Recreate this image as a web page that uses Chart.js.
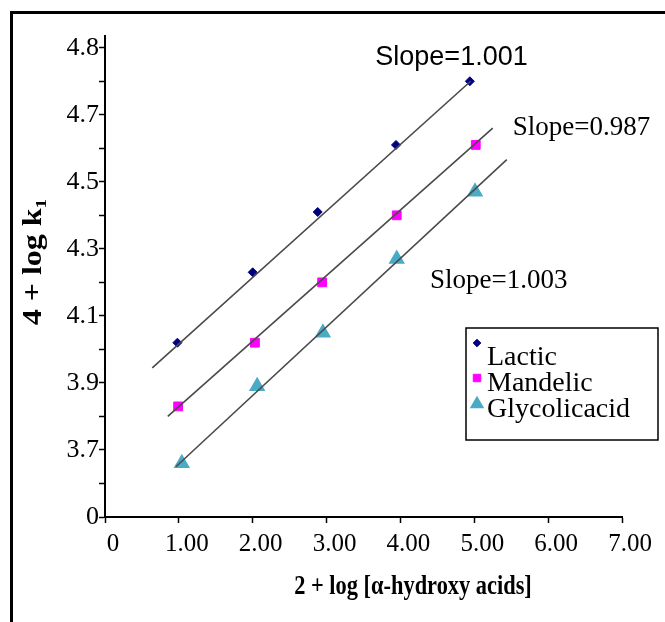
<!DOCTYPE html>
<html>
<head>
<meta charset="utf-8">
<script src="https://cdn.jsdelivr.net/npm/chart.js@4"></script>
<style>
  body { margin: 0; background: #fff; }
  #wrap { width: 665px; height: 622px; position: relative; }
</style>
</head>
<body>
<div id="wrap"><canvas id="chart"></canvas></div>
<script>
// values
const lacticX = [0.98, 2.00, 2.88, 3.94, 4.94];
const lacticY = [4.02, 4.23, 4.41, 4.61, 4.80];
const mandelicX = [0.99, 2.03, 2.94, 3.95, 5.02];
const mandelicY = [3.83, 4.02, 4.20, 4.40, 4.61];
const glycolicX = [1.04, 2.06, 2.95, 3.95, 5.01];
const glycolicY = [3.66, 3.89, 4.05, 4.27, 4.47];

// trend line end points
const lacticFit = [[0.64, 3.945], [4.95, 4.80]];
const mandelicFit = [[0.85, 3.80], [5.25, 4.66]];
const glycolicFit = [[0.96, 3.65], [5.44, 4.566]];

// y axis: tick values and the labels printed at them
const yTickValues = [3.5, 3.7, 3.9, 4.1, 4.3, 4.5, 4.7, 4.9];
const yTickLabels = ['0', '3.7', '3.9', '4.1', '4.3', '4.5', '4.7', '4.8'];

const slopeNotes = [
  { text: 'Slope=1.001', x: 3.66, y: 4.849, font: '27px "Liberation Sans", Arial, sans-serif' },
  { text: 'Slope=0.987', x: 5.52, y: 4.640, font: '27px "Liberation Serif", "Times New Roman", serif' },
  { text: 'Slope=1.003', x: 4.40, y: 4.184, font: '27px "Liberation Serif", "Times New Roman", serif' }
];

const serif = '"Liberation Serif", "Times New Roman", serif';

function toPoints(xs, ys) {
  return xs.map((x, i) => ({ x: x, y: ys[i] }));
}
function fitPoints(f) {
  return f.map(p => ({ x: p[0], y: p[1] }));
}

function fitLine(data) {
  return {
    data: data,
    showLine: true,
    borderColor: '#4a4a4a',
    borderWidth: 1.6,
    pointRadius: 0,
    fill: false
  };
}

const pointSets = [
  { label: 'Lactic', data: toPoints(lacticX, lacticY), pointStyle: 'rectRot', pointRadius: 4.5,
    backgroundColor: '#000080', borderColor: '#000080', borderWidth: 1 },
  { label: 'Mandelic', data: toPoints(mandelicX, mandelicY), pointStyle: 'rect', pointRadius: 6.2,
    backgroundColor: '#ff00ff', borderColor: '#ff00ff', borderWidth: 1 },
  { label: 'Glycolicacid', data: toPoints(glycolicX, glycolicY), pointStyle: 'triangle', pointRadius: 7.5,
    backgroundColor: '#4aabc5', borderColor: '#4aabc5', borderWidth: 2 }
];

const extras = {
  id: 'extras',
  afterDraw(c) {
    const ctx = c.ctx;
    const xs = c.scales.x, ys = c.scales.y;
    ctx.save();
    // outer frame (top and left only visible)
    ctx.strokeStyle = '#000';
    ctx.lineWidth = 3;
    ctx.beginPath();
    ctx.moveTo(11.5, 622);
    ctx.lineTo(11.5, 12.5);
    ctx.lineTo(665, 12.5);
    ctx.stroke();

    // slope notes
    ctx.fillStyle = '#000';
    ctx.textBaseline = 'alphabetic';
    ctx.textAlign = 'left';
    slopeNotes.forEach(n => {
      ctx.font = n.font;
      ctx.fillText(n.text, xs.getPixelForValue(n.x), ys.getPixelForValue(n.y));
    });

    // axis titles (the source picture is squeezed sideways)
    ctx.textAlign = 'center';
    ctx.font = 'bold 28px ' + serif;
    ctx.save();
    ctx.translate(413, 594);
    ctx.scale(0.8, 1);
    ctx.fillText('2 + log [\u03b1-hydroxy acids]', 0, 0);
    ctx.restore();
    ctx.save();
    ctx.translate(41, 262);
    ctx.rotate(-Math.PI / 2);
    ctx.scale(1, 0.85);
    ctx.font = 'bold 32px ' + serif;
    ctx.fillText('4 + log k\u2081', 0, 0);
    ctx.restore();

    // legend
    ctx.lineWidth = 1.5;
    ctx.strokeRect(466, 328, 192, 112);
    ctx.font = '28px ' + serif;
    ctx.textAlign = 'left';
    const rows = [{ my: 343, ty: 365 }, { my: 378, ty: 391 }, { my: 404, ty: 417 }];
    pointSets.forEach((ds, i) => {
      ctx.fillStyle = ds.backgroundColor;
      ctx.strokeStyle = ds.borderColor;
      ctx.lineWidth = ds.borderWidth;
      Chart.helpers.drawPoint(ctx, { pointStyle: ds.pointStyle, radius: ds.pointRadius * 0.85, borderWidth: ds.borderWidth }, 477, rows[i].my);
      ctx.fillStyle = '#000';
      ctx.fillText(ds.label, 487, rows[i].ty);
    });
    ctx.restore();
  }
};

new Chart(document.getElementById('chart'), {
  type: 'scatter',
  data: {
    datasets: [
      fitLine(fitPoints(lacticFit)),
      fitLine(fitPoints(mandelicFit)),
      fitLine(fitPoints(glycolicFit)),
      ...pointSets
    ]
  },
  options: {
    responsive: true,
    maintainAspectRatio: false,
    animation: false,
    layout: { padding: { left: 16, top: 36, right: 43, bottom: 0 } },
    plugins: {
      legend: { display: false },
      tooltip: { enabled: false }
    },
    scales: {
      x: {
        type: 'linear',
        min: 0, max: 7,
        afterFit: s => { s.height = 105; },
        border: { color: '#000', width: 2 },
        grid: { drawOnChartArea: false, color: '#000', tickLength: 6, tickWidth: 1.5 },
        ticks: {
          stepSize: 1,
          color: '#000',
          padding: 6,
          labelOffset: 8,
          maxRotation: 0,
          font: { family: serif, size: 25 },
          callback: v => v === 0 ? '0' : v.toFixed(2)
        }
      },
      y: {
        type: 'linear',
        min: 3.5, max: 4.935,
        afterFit: s => { s.width = 89; },
        afterBuildTicks: s => {
          const t = [];
          for (let i = 0; i <= 14; i++) t.push({ value: Math.round((3.5 + i * 0.1) * 10) / 10 });
          s.ticks = t;
        },
        border: { color: '#000', width: 2 },
        grid: { drawOnChartArea: false, color: '#000', tickLength: 6, tickWidth: 1.5 },
        ticks: {
          color: '#000',
          padding: 0,
          autoSkip: false,
          font: { family: serif, size: 26 },
          callback: v => {
            const k = yTickValues.findIndex(t => Math.abs(t - v) < 1e-6);
            return k >= 0 ? yTickLabels[k] : '';
          }
        }
      }
    }
  },
  plugins: [extras]
});
</script>
</body>
</html>
